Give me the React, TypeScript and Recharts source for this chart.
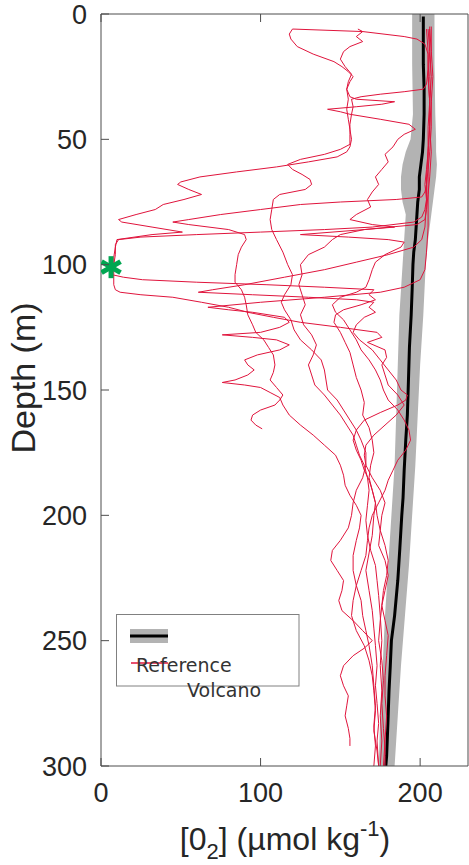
import { ComposedChart, Line, Area, Scatter, XAxis, YAxis } from 'recharts';

// axis ticks
const depthTicks = [0, 50, 100, 150, 200, 250, 300];
const o2Ticks = [0, 100, 200];

// reference profile (mean, black) as [depth, O2]
const referenceMean: [number, number][] = [
  [1, 202], [10, 202], [20, 202], [30, 202.5], [40, 202.5], [50, 202], [55, 201.5], [60, 200.5],
  [65, 199.5], [70, 199.5], [75, 198.5], [80, 198], [85, 197.5], [90, 197], [95, 196], [100, 195.5],
  [110, 195], [120, 194.4], [133, 193.3], [150, 192.5], [160, 192], [170, 191], [182, 190],
  [193, 189.3], [200, 188.5], [213, 187.3], [226, 186], [240, 184], [250, 182], [260, 181.3],
  [270, 180.5], [283, 179.8], [296, 179], [300, 178.5],
];

// reference spread (grey band) as [depth, low, high]
const referenceBand: [number, number, number][] = [
  [0, 195, 209], [20, 195, 209], [40, 195.5, 209.5], [50, 194, 210], [55, 191, 210], [60, 189, 210.5],
  [65, 188, 210], [70, 188, 209], [75, 189, 208], [80, 191, 207], [90, 190, 205], [100, 189, 203.5],
  [120, 187, 202], [140, 186, 200], [160, 185, 198.5], [180, 184, 197], [200, 182, 195],
  [220, 180, 193], [240, 178, 190.5], [260, 176.5, 188], [280, 175, 186], [300, 174, 184],
];

// volcano profiles as [depth, O2]
const volcano1: [number, number][] = [
  [6, 120], [8, 118], [10, 119], [13, 123], [16, 133], [19, 146], [21, 151], [23, 155], [25, 158], [27, 156],
  [30, 154], [34, 155], [38, 154], [42, 155], [46, 156], [50, 157], [53, 156], [55, 154], [57, 148], [59, 130],
  [61, 110], [63, 85], [65, 62], [67, 50], [68, 48], [70, 55], [72, 63], [74, 52], [76, 39], [78, 34],
  [80, 22], [82, 11], [83, 13], [85, 32], [87, 51], [88, 32], [90, 10], [93, 9], [97, 8], [101, 8],
  [104, 7], [105, 14], [106, 26], [107, 60], [108, 104], [109, 140], [110, 171], [112, 168], [114, 172],
  [116, 163], [118, 152], [120, 147], [123, 146], [127, 150], [131, 153], [135, 156], [140, 158], [145, 160],
  [150, 163], [155, 165], [160, 164], [165, 168], [170, 170], [175, 171], [180, 169], [185, 168], [190, 170],
  [195, 172], [200, 171], [208, 170], [215, 168], [222, 166], [230, 168], [238, 170], [245, 171], [252, 172],
  [260, 173], [268, 172], [275, 173], [283, 174], [290, 173], [300, 174],
];

const volcano2: [number, number][] = [
  [6, 120], [7, 164], [9, 190], [10, 198], [12, 203], [16, 205], [22, 205], [28, 204], [30, 202], [31, 190],
  [32, 175], [33, 163], [34, 157], [37, 158], [40, 157], [44, 156], [48, 156], [52, 156], [54, 150], [56, 140],
  [58, 125], [60, 117], [62, 120], [64, 126], [66, 131], [68, 132], [70, 128], [72, 112], [74, 108], [78, 107],
  [82, 106], [86, 107], [90, 110], [95, 114], [100, 117], [104, 120], [108, 119], [112, 115], [115, 113],
  [118, 115], [122, 119], [126, 121], [130, 125], [134, 132], [138, 138], [142, 140], [146, 141], [150, 142],
  [154, 148], [158, 152], [162, 156], [166, 160], [170, 163], [175, 166], [180, 166], [185, 164], [190, 160],
  [195, 158], [200, 157], [205, 155], [210, 150], [214, 145], [218, 144], [222, 148], [226, 152], [230, 151],
  [234, 149], [238, 151], [242, 158], [246, 164], [250, 170], [253, 165], [256, 158], [260, 152], [264, 150],
  [268, 152], [272, 155], [276, 154], [280, 153], [285, 155], [289, 156], [292, 156],
];

const volcano3: [number, number][] = [
  [5, 207], [15, 207], [25, 208], [35, 207], [45, 207], [55, 206], [62, 205], [68, 204], [71, 203], [73, 201],
  [74, 185], [75, 150], [76, 125], [78, 100], [80, 75], [82, 55], [83, 45], [84, 55], [86, 80], [88, 90],
  [90, 91], [93, 88], [96, 86], [100, 85], [104, 84], [107, 84], [110, 88], [113, 90], [116, 91], [120, 92],
  [124, 95], [127, 97], [130, 102], [133, 105], [136, 108], [140, 109], [143, 108], [146, 106], [149, 110],
  [152, 114], [154, 112], [156, 109], [158, 100], [160, 95], [162, 94], [164, 97], [165.5, 101],
];

const volcano4: [number, number][] = [
  [5, 206], [15, 206], [25, 207], [35, 206], [45, 206], [55, 207], [65, 206], [72, 205], [78, 204], [82, 203],
  [84, 198], [86, 165], [88, 125], [89, 155], [90, 180], [91, 190], [93, 188], [96, 178], [99, 172], [102, 170],
  [106, 168], [109, 166], [111, 160], [113, 150], [116, 145], [119, 147], [122, 152], [126, 156], [130, 160],
  [134, 163], [138, 168], [142, 172], [146, 175], [150, 177], [154, 180], [158, 186], [162, 190], [166, 193],
  [170, 194], [174, 191], [178, 186], [182, 183], [186, 180], [190, 178], [195, 174], [200, 170], [205, 168],
  [210, 167], [216, 166], [222, 163], [228, 160], [234, 158], [240, 157], [246, 160], [252, 165], [258, 168],
  [264, 170], [270, 171], [278, 172], [286, 171], [294, 173], [300, 174],
];

const volcano5: [number, number][] = [
  [6, 161], [7, 164], [9, 160], [11, 164], [13, 156], [15, 152], [18, 150], [21, 153], [24, 157], [27, 155],
  [30, 154], [33, 156], [34, 160], [35, 184], [36, 176], [37, 160], [38, 142], [39, 150], [40, 156], [42, 175],
  [44, 193], [46, 197], [48, 190], [50, 186], [53, 183], [56, 178], [59, 180], [62, 176], [65, 172], [68, 174],
  [71, 170], [74, 167], [77, 169], [80, 160], [82, 156], [84, 170], [85, 184], [86, 165], [88, 150], [90, 145],
  [93, 140], [96, 130], [100, 125], [104, 126], [108, 124], [112, 126], [116, 128], [120, 125], [124, 127],
  [128, 132], [132, 135], [136, 133], [140, 130], [144, 132], [148, 134], [152, 140], [156, 145], [160, 150],
  [164, 154], [168, 158], [172, 160], [176, 162], [180, 165], [185, 167], [190, 168], [196, 167], [202, 166],
  [208, 167], [214, 169], [220, 172], [226, 173], [232, 174], [240, 175], [250, 176], [260, 175], [270, 176],
  [280, 175], [290, 176], [300, 175],
];

const volcano6: [number, number][] = [
  [6, 205], [15, 206], [25, 205], [35, 206], [45, 205], [55, 205], [65, 204], [75, 204], [85, 203], [90, 201],
  [93, 196], [96, 180], [99, 160], [102, 140], [105, 115], [108, 90], [110, 70], [111, 61], [112, 95],
  [113, 130], [114, 160], [115, 171], [117, 168], [119, 172], [121, 165], [124, 160], [127, 158], [130, 162],
  [134, 170], [138, 175], [142, 180], [146, 185], [150, 188], [152, 192], [154, 191], [156, 186], [159, 175],
  [162, 165], [166, 160], [170, 158], [174, 160], [178, 163], [182, 165], [186, 168], [190, 170], [195, 172],
  [200, 173], [206, 175], [212, 178], [218, 180], [224, 179], [230, 177], [236, 176], [242, 178], [248, 180],
  [256, 179], [264, 178], [272, 178], [280, 179], [290, 178], [300, 177],
];

const volcano7: [number, number][] = [
  [6, 204], [15, 205], [25, 205], [35, 206], [45, 206], [55, 205], [65, 205], [75, 205], [85, 205], [95, 204],
  [102, 203], [106, 200], [109, 190], [111, 175], [113, 140], [115, 100], [117, 67], [118, 80], [119, 95],
  [121, 115], [123, 118], [125, 112], [127, 100], [128, 76], [129, 95], [130, 110], [132, 118], [134, 112],
  [136, 98], [138, 90], [140, 92], [142, 96], [144, 92], [146, 84], [147, 76], [148, 90], [149, 100], [151, 106],
  [153, 112], [156, 114], [160, 118], [164, 125], [168, 133], [172, 140], [176, 147], [180, 150], [184, 152],
  [188, 153], [192, 156], [196, 160], [200, 163], [205, 162], [210, 160], [216, 158], [222, 158], [228, 160],
  [234, 163], [240, 164], [246, 166], [252, 168], [260, 170], [268, 171], [276, 172], [284, 171], [292, 172],
  [300, 171],
];

const volcano8: [number, number][] = [
  [6, 206], [15, 207], [25, 206], [35, 207], [45, 206], [55, 205], [62, 204], [68, 203], [74, 204], [78, 203],
  [81, 201], [83, 196], [85, 170], [86, 140], [87, 100], [88, 60], [89, 25], [90, 11], [92, 9], [96, 9],
  [100, 8], [104, 8], [108, 8], [110, 9], [111, 12], [112, 25], [113, 45], [115, 63], [117, 80], [119, 92],
  [121, 108], [123, 125], [125, 150], [127, 173], [129, 176], [131, 167], [134, 178], [137, 179], [140, 176],
  [144, 178], [148, 180], [152, 186], [156, 190], [160, 185], [164, 178], [168, 171], [172, 166], [176, 165],
  [180, 166], [185, 170], [190, 175], [195, 178], [200, 176], [206, 175], [212, 174], [218, 178], [224, 180],
  [230, 178], [236, 176], [242, 175], [250, 174], [258, 176], [266, 177], [275, 176], [285, 177], [293, 178],
  [300, 178],
];

const volcanoProfiles = [volcano1, volcano2, volcano3, volcano4, volcano5, volcano6, volcano7, volcano8];

// surface minimum marker
const minimumPoint = [{ depth: 101, o2: 6.3 }];

const FRAME = '#4d4d4d';
const TEXT = '#262626';
const RED = '#e0143c';
const GREY = '#b3b3b3';
const FONT = 'Liberation Sans, Arial, Helvetica, sans-serif';

const toRows = (p: [number, number][]) => p.map(([depth, o2]) => ({ depth, o2 }));
const meanRows = toRows(referenceMean);
const bandRows = referenceBand.map(([depth, lo, hi]) => ({ depth, band: [lo, hi] }));

function BottomTick({ x, y, payload }: any) {
  return (
    <g>
      <line x1={x} y1={y} x2={x} y2={y - 8} stroke={FRAME} />
      <text x={x} y={y + 36} textAnchor="middle" fontSize={27} fill={TEXT} fontFamily={FONT}>
        {payload.value}
      </text>
    </g>
  );
}

function TopTick({ x, y }: any) {
  return <line x1={x} y1={y} x2={x} y2={y + 8} stroke={FRAME} />;
}

function LeftTick({ x, y, payload }: any) {
  return (
    <g>
      <line x1={x} y1={y} x2={x + 8} y2={y} stroke={FRAME} />
      <text x={x - 14} y={y} dy="0.36em" textAnchor="end" fontSize={27} fill={TEXT} fontFamily={FONT}>
        {payload.value}
      </text>
    </g>
  );
}

function RightTick({ x, y }: any) {
  return <line x1={x} y1={y} x2={x - 8} y2={y} stroke={FRAME} />;
}

const Asterisk = ({ cx, cy }: any) => (
  <g stroke="#00a651" strokeWidth={5} strokeLinecap="butt">
    <line x1={cx} y1={cy - 11} x2={cx} y2={cy + 11} />
    <line x1={cx - 9.5} y1={cy - 5.5} x2={cx + 9.5} y2={cy + 5.5} />
    <line x1={cx - 9.5} y1={cy + 5.5} x2={cx + 9.5} y2={cy - 5.5} />
  </g>
);

const XTitle = () => (
  <text x={285} y={850} textAnchor="middle" fontSize={32} fill={TEXT} fontFamily={FONT}>
    [0<tspan fontSize={22} dy={9}>2</tspan>
    <tspan dy={-9}>] (µmol kg</tspan>
    <tspan fontSize={22} dy={-14}>-1</tspan>
    <tspan dy={14}>)</tspan>
  </text>
);

const YTitle = () => (
  <text
    x={23}
    y={378}
    transform="rotate(-90, 23, 378)"
    textAnchor="middle"
    dominantBaseline="central"
    fontSize={34}
    fill={TEXT}
    fontFamily={FONT}
  >
    Depth (m)
  </text>
);

function LegendBox() {
  return (
    <svg
      width={200}
      height={100}
      style={{ position: 'absolute', left: 110, top: 608, overflow: 'visible' }}
    >
      <rect x={6.5} y={6.5} width={182.5} height={71.5} fill="#fff" stroke="#808080" />
      <rect x={20} y={21} width={38} height={14} fill={GREY} />
      <line x1={20} y1={28} x2={58} y2={28} stroke="#000" strokeWidth={3} />
      <line x1={21} y1={55} x2={58} y2={55} stroke={RED} strokeWidth={1.5} />
      <text x={26} y={64} fontSize={19} fill="#333" fontFamily="DejaVu Sans, sans-serif">
        Reference
      </text>
      <text x={77} y={89} fontSize={19} fill="#333" fontFamily="DejaVu Sans, sans-serif">
        Volcano
      </text>
    </svg>
  );
}

export default function App() {
  return (
    <div style={{ position: 'absolute', left: 0, top: 0, width: 469, height: 865, background: '#fff' }}>
      <ComposedChart
        width={469}
        height={865}
        layout="vertical"
        margin={{ top: 0, right: 0, bottom: 0, left: 0 }}
      >
        <XAxis
          type="number"
          dataKey="o2"
          domain={[0, 230]}
          ticks={o2Ticks}
          allowDataOverflow
          height={99}
          axisLine={{ stroke: FRAME }}
          tickLine={false}
          tickSize={0}
          tickMargin={0}
          tick={BottomTick}
          interval={0}
          label={XTitle}
        />
        <XAxis
          xAxisId="top"
          orientation="top"
          type="number"
          domain={[0, 230]}
          ticks={o2Ticks}
          allowDataOverflow
          height={14}
          axisLine={{ stroke: FRAME }}
          tickLine={false}
          tickSize={0}
          tickMargin={0}
          tick={TopTick}
          interval={0}
        />
        <YAxis
          type="number"
          dataKey="depth"
          domain={[0, 300]}
          ticks={depthTicks}
          allowDataOverflow
          width={101}
          axisLine={{ stroke: FRAME }}
          tickLine={false}
          tickSize={0}
          tickMargin={0}
          tick={LeftTick}
          interval={0}
          label={YTitle}
        />
        <YAxis
          yAxisId="right"
          orientation="right"
          type="number"
          domain={[0, 300]}
          ticks={depthTicks}
          allowDataOverflow
          width={1}
          axisLine={{ stroke: FRAME }}
          tickLine={false}
          tickSize={0}
          tickMargin={0}
          tick={RightTick}
          interval={0}
        />
        <Area
          data={bandRows}
          dataKey="band"
          type="linear"
          stroke="none"
          fill={GREY}
          fillOpacity={1}
          isAnimationActive={false}
        />
        <Line
          data={meanRows}
          dataKey="o2"
          type="linear"
          stroke="#000"
          strokeWidth={3}
          dot={false}
          isAnimationActive={false}
        />
        {volcanoProfiles.map((p, i) => (
          <Line
            key={i}
            data={toRows(p)}
            dataKey="o2"
            type="linear"
            stroke={RED}
            strokeWidth={1}
            dot={false}
            isAnimationActive={false}
          />
        ))}
        <Scatter data={minimumPoint} dataKey="o2" shape={Asterisk} isAnimationActive={false} />
      </ComposedChart>
      <LegendBox />
    </div>
  );
}
